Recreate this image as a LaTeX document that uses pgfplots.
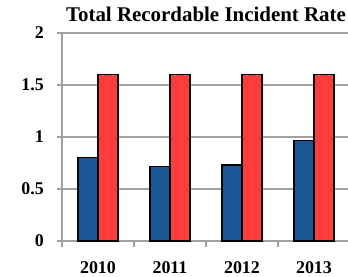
\documentclass[border=0pt]{standalone}
\usepackage{pgfplots}
\pgfplotsset{compat=1.18}
\usepackage{fontspec}
\setmainfont{Liberation Serif}
\definecolor{barblue}{RGB}{26,85,150}
\definecolor{barred}{RGB}{255,59,59}
\definecolor{gridgray}{RGB}{160,160,160}
\begin{document}
\begin{tikzpicture}
\path[use as bounding box] (-62bp,-36bp) rectangle (286bp,241bp);
\begin{axis}[
  at={(0,0)}, anchor=south west,
  scale only axis,
  width=288bp, height=208bp,
  xmin=-0.5, xmax=3.5,
  ymin=0, ymax=2,
  ybar=0pt, bar width=20bp,
  axis x line=bottom, axis y line=left,
  axis line style={gridgray, line width=1.3bp, -},
  ytick={0,0.5,1,1.5,2},
  yticklabels={0,0.5,1,1.5,2},
  xtick={0,1,2,3},
  xticklabels={2010,2011,2012,2013},
  minor xtick={-0.5,0.5,1.5,2.5,3.5},
  major x tick style={draw=none},
  minor x tick style={gridgray, line width=1.3bp},
  minor tick length=6bp,
  major tick length=5bp,
  ytick style={gridgray, line width=1.3bp},
  tick align=outside,
  ymajorgrids,
  major grid style={gridgray, line width=1.3bp},
  /pgf/number format/assume math mode=true,
  yticklabel style={font=\fontsize{18}{18}\selectfont\bfseries, inner sep=0pt, anchor=east, xshift=-13bp},
  xticklabel style={font=\fontsize{18}{18}\selectfont\bfseries, inner sep=0pt, anchor=base, yshift=-27bp},
  clip=false,
]
\addplot[fill=barblue, draw=black, line width=1.2bp] coordinates {(0,0.80) (1,0.72) (2,0.73) (3,0.97)};
\addplot[fill=barred, draw=black, line width=1.2bp] coordinates {(0,1.60) (1,1.60) (2,1.60) (3,1.60)};
\node[anchor=base, font=\fontsize{21}{21}\selectfont\bfseries, inner sep=0pt] at (rel axis cs:0.5,1) [yshift=11bp] {Total Recordable Incident Rate};
\end{axis}
\end{tikzpicture}
\end{document}
